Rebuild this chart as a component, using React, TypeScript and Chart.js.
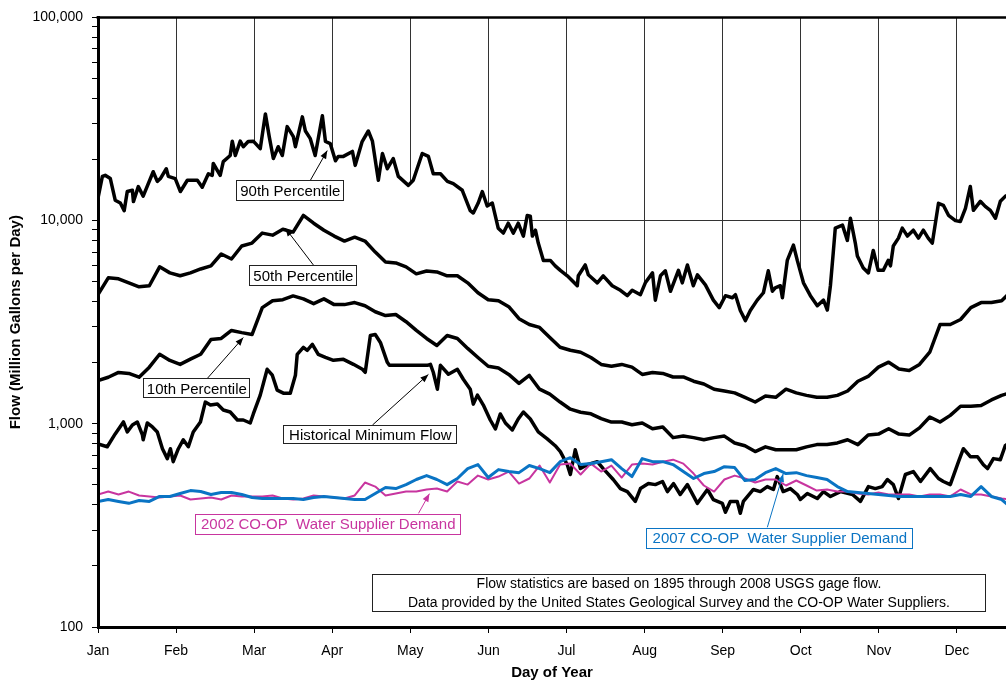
import React, { useEffect, useRef } from 'react';
import { Chart, registerables } from 'chart.js';

Chart.register(...registerables);

const FONT = '"Liberation Sans", Arial, Helvetica, sans-serif';
const MAGENTA = '#C8359F';
const BLUE = '#0A74C4';

// Day of year for the 50th / 10th percentile and demand samples
const days = [
  1, 5, 9, 13, 17, 21, 25, 29, 33, 37, 41, 45, 49, 53, 57, 61, 65, 69, 73, 77,
  81, 85, 89, 93, 97, 101, 105, 109, 113, 117, 121, 125, 129, 133, 137, 141, 145, 149, 153, 157,
  161, 165, 169, 173, 177, 181, 185, 189, 193, 197, 201, 205, 209, 213, 217, 221, 225, 229, 233, 237,
  241, 245, 249, 253, 257, 261, 265, 269, 273, 277, 281, 285, 289, 293, 297, 301, 305, 309, 313, 317,
  321, 325, 329, 333, 337, 341, 345, 349, 353, 357,
];

const monthLabels = ['Jan', 'Feb', 'Mar', 'Apr', 'May', 'Jun', 'Jul', 'Aug', 'Sep', 'Oct', 'Nov', 'Dec'];
const monthTicks = [1, 31.42, 61.83, 92.25, 122.67, 153.08, 183.5, 213.92, 244.33, 274.75, 305.17, 335.58];
const decadeTicks = [100, 1000, 10000, 100000];

// 90th percentile (own, denser day list to keep its spikes)
const p90Days = [
  1, 2.7, 3.8, 5.8, 7.7, 9.7, 11.2, 12.4, 14.4, 14.8,
  16.7, 18.6, 22.5, 24.1, 25.3, 27.6, 28.4, 31.1, 33.1, 35.8,
  39.7, 41.6, 44.0, 45.5, 45.9, 48.6, 49.8, 52.5, 53.3, 54.5,
  56.4, 57.6, 59.5, 61.5, 64.2, 66.2, 67.7, 69.3, 71.2, 72.8,
  74.7, 77.1, 77.9, 80.6, 81.8, 83.7, 85.6, 88.4, 89.6, 91.5,
  93.5, 94.6, 96.6, 100.1, 101.2, 103.9, 106.3, 107.9, 110.2, 111.8,
  113.7, 116.0, 118.0, 121.9, 123.8, 127.3, 129.7, 131.6, 134.4, 137.1,
  139.4, 142.9, 146.0, 147.2, 149.1, 150.7, 152.6, 154.6, 156.9, 158.9,
  160.8, 162.8, 164.7, 166.7, 168.2, 169.4, 170.2, 171.4, 172.5, 174.5,
  177.2, 179.1, 181.1, 183.8, 187.7, 188.1, 190.8, 192.0, 195.5, 197.8,
  201.3, 204.5, 207.2, 209.1, 212.3, 214.2, 217.0, 218.1, 220.1, 222.0,
  224.0, 227.1, 228.6, 230.6, 232.9, 234.5, 237.6, 240.7, 243.0, 245.4,
  248.1, 249.3, 251.2, 253.2, 255.1, 257.8, 260.2, 262.1, 263.7, 264.8,
  266.8, 267.6, 269.5, 271.9, 273.4, 275.8, 278.5, 281.2, 283.6, 285.1,
  286.3, 287.4, 288.2, 291.0, 292.9, 294.1, 296.0, 296.8, 299.1, 301.1,
  303.0, 304.9, 306.9, 308.8, 309.7, 310.8, 312.8, 314.3, 316.3, 318.6,
  320.6, 322.5, 324.4, 326.0, 328.4, 330.3, 332.3, 335.0, 336.9, 338.9,
  340.8, 342.0, 344.7, 346.6, 348.6, 350.6, 352.5, 354.4, 356.5,
];
const p90 = [
  12900, 16500, 16700, 16100, 12600, 12200, 11200, 13900, 14100, 12400,
  14700, 13200, 17400, 15600, 16100, 18000, 16500, 16100, 13900, 15800,
  15800, 14600, 17000, 16700, 19100, 16700, 19500, 20900, 24600, 20900,
  24600, 23100, 24500, 24600, 22600, 33500, 25900, 20200, 23100, 20900,
  29000, 25900, 23100, 32400, 27600, 25300, 20900, 32800, 24500, 23900,
  19700, 20700, 20700, 21900, 18700, 24500, 27600, 24600, 15800, 21400,
  18000, 20200, 16500, 14900, 15800, 21400, 20700, 17000, 17000, 15600,
  15200, 14100, 11200, 10900, 12200, 13900, 11800, 12200, 9180, 8680,
  9710, 8680, 9710, 8390, 10600, 10500, 8390, 8970, 7750, 6370,
  6370, 5990, 5690, 5350, 4780, 5350, 6050, 5410, 4940, 5350,
  4780, 4540, 4270, 4540, 4320, 4940, 5530, 4060, 5350, 5660,
  4490, 5690, 4940, 6050, 4780, 5410, 4830, 4060, 3730, 4270,
  4170, 4320, 3610, 3220, 3610, 4060, 4415, 5660, 4490, 4670,
  4780, 4170, 6370, 7580, 6370, 4940, 4270, 3810, 4060, 3630,
  4780, 6930, 9180, 9500, 7990, 10270, 7750, 6700, 5850, 5530,
  7130, 5690, 5690, 6370, 5990, 7500, 8200, 9180, 8390, 8970,
  8200, 8970, 8200, 7750, 12160, 11890, 10620, 10000, 9890, 11490,
  14730, 11230, 12440, 11750, 11230, 10270, 12440, 13160, 13600,
];

const p50 = [
  4320, 5230, 5170, 4940, 4720, 4780, 5920, 5530, 5350, 5530,
  5780, 5990, 6850, 6470, 7500, 7750, 8680, 8480, 9070, 8780,
  10600, 9710, 8970, 8390, 7930, 8290, 7930, 7000, 6260, 6190,
  5920, 5470, 5650, 5590, 5350, 5350, 4940, 4415, 4080, 4030,
  3770, 3290, 3080, 2980, 2660, 2380, 2300, 2250, 2120, 1960,
  1920, 1960, 1900, 1750, 1790, 1770, 1700, 1700, 1620, 1570,
  1480, 1450, 1420, 1350, 1280, 1370, 1350, 1480, 1420, 1380,
  1350, 1350, 1380, 1450, 1620, 1710, 1900, 2010, 1860, 1830,
  1960, 2250, 3080, 3080, 3260, 3730, 3950, 3950, 4030, 4520,
];

const p10 = [
  1630, 1695, 1790, 1770, 1695, 1900, 2200, 2050, 1960, 2080,
  2200, 2600, 2630, 2880, 2810, 2750, 3730, 4030, 4080, 4260,
  4120, 3900, 4120, 3860, 3860, 3950, 3810, 3560, 3410, 3450,
  3180, 2880, 2630, 2430, 2720, 2630, 2350, 2120, 1920, 1880,
  1750, 1580, 1730, 1480, 1400, 1280, 1180, 1140, 1120, 1060,
  1020, 1020, 990, 1010, 945, 965, 855, 870, 855, 835,
  855, 870, 805, 780, 730, 770, 745, 745, 745, 770,
  790, 790, 805, 835, 790, 880, 890, 945, 890, 880,
  955, 1080, 1020, 1100, 1220, 1220, 1230, 1310, 1380, 1430,
];

// Historical minimum (own day list)
const minDays = [
  1, 4.6, 7.7, 10.9, 12.4, 14.4, 16.3, 18.3, 18.6, 20.2,
  22.2, 24.1, 26.1, 28.0, 29.2, 30.3, 32.3, 34.2, 36.2, 38.1,
  40.9, 42.8, 44.8, 47.5, 49.8, 52.5, 55.3, 57.6, 60.3, 61.5,
  64.2, 66.9, 68.9, 70.8, 73.2, 75.9, 77.9, 78.6, 81.0, 82.5,
  84.5, 86.8, 89.6, 92.7, 96.6, 100.5, 104.0, 105.1, 107.1, 109.0,
  111.0, 113.7, 114.5, 129.3, 130.5, 131.6, 133.2, 134.4, 137.5, 141.0,
  143.3, 146.0, 147.2, 148.8, 151.1, 153.8, 155.8, 157.7, 159.7, 162.4,
  164.7, 166.7, 169.4, 172.5, 176.0, 179.1, 181.1, 183.8, 185.0, 186.9,
  188.9, 191.6, 195.5, 197.8, 201.7, 204.5, 207.2, 210.3, 212.3, 215.4,
  218.1, 220.9, 222.8, 225.2, 227.8, 230.6, 234.5, 238.4, 240.7, 244.2,
  245.4, 247.3, 250.0, 251.2, 252.4, 256.3, 259.0, 261.7, 264.1, 265.6,
  267.9, 270.7, 273.4, 274.6, 277.3, 281.2, 283.6, 286.3, 290.2, 294.9,
  298.0, 301.1, 303.8, 306.5, 308.5, 310.8, 312.8, 315.5, 318.6, 321.4,
  325.2, 328.4, 330.3, 333.0, 336.2, 338.1, 340.8, 343.6, 345.9, 347.5,
  349.8, 352.5, 354.4, 356.5,
];
const minFlow = [
  797, 771, 892, 1021, 912, 987, 1021, 882, 834, 1009,
  965, 912, 754, 674, 754, 651, 754, 834, 771, 912,
  1021, 1279, 1237, 1250, 1169, 1143, 1044, 1044, 1009, 1118,
  1384, 1855, 1734, 1464, 1415, 1415, 1734, 2196, 2376, 2300,
  2458, 2196, 2123, 2053, 2076, 1962, 1855, 1793, 2720, 2750,
  2514, 2007, 1940, 1940, 1962, 1793, 1480, 1940, 1753, 1855,
  1657, 1480, 1250, 1384, 1237, 1044, 943, 1118, 1009, 933,
  1056, 1143, 1056, 912, 843, 780, 729, 629, 563, 745,
  602, 629, 651, 602, 532, 480, 464, 415, 480, 508,
  502, 520, 464, 508, 449, 502, 406, 475, 424, 406,
  367, 415, 415, 363, 415, 475, 464, 491, 475, 550,
  464, 480, 449, 424, 454, 429, 464, 439, 464, 449,
  415, 491, 480, 491, 532, 502, 429, 563, 582, 520,
  602, 538, 520, 502, 651, 754, 689, 689, 629, 602,
  674, 666, 780, 815,
];

const demand2002 = [
  449, 464, 449, 464, 444, 439, 434, 439, 444, 424,
  429, 434, 424, 444, 439, 439, 439, 444, 429, 424,
  429, 444, 439, 434, 429, 444, 514, 491, 444, 454,
  464, 464, 475, 480, 464, 520, 502, 556, 532, 550,
  582, 508, 538, 623, 514, 630, 637, 563, 637, 582,
  623, 544, 630, 637, 630, 651, 666, 637, 569, 497,
  464, 532, 556, 538, 514, 532, 532, 497, 526, 497,
  469, 475, 464, 464, 454, 449, 459, 449, 449, 449,
  439, 449, 449, 439, 475, 449, 449, 439, 429, 424,
];

const demand2007 = [
  415, 424, 415, 406, 419, 415, 439, 439, 454, 469,
  464, 449, 459, 459, 449, 434, 429, 429, 429, 429,
  424, 434, 439, 434, 429, 424, 424, 454, 486, 480,
  502, 532, 556, 532, 502, 538, 602, 630, 544, 595,
  582, 575, 623, 602, 575, 651, 681, 630, 637, 651,
  666, 602, 550, 674, 651, 651, 630, 582, 538, 569,
  582, 615, 609, 526, 532, 575, 602, 569, 575, 556,
  544, 532, 491, 464, 459, 454, 449, 444, 439, 439,
  439, 439, 439, 439, 449, 439, 491, 439, 424, 383,
];

// Callout labels placed in data coordinates (day, flow)
const callouts = [
  { text: '90th Percentile', color: '#000', day: 75.9, value: 14000, w: 108, h: 21, tailDay: 83.7, tipDay: 90.3, tipValue: 22100 },
  { text: '50th Percentile', color: '#000', day: 81.0, value: 5370, w: 108, h: 21, tailDay: 84.9, tipDay: 74.0, tipValue: 9170 },
  { text: '10th Percentile', color: '#000', day: 39.5, value: 1494, w: 107, h: 20, tailDay: 43.6, tipDay: 57.6, tipValue: 2656 },
  { text: 'Historical Minimum Flow', color: '#000', day: 107.1, value: 885, w: 174, h: 19, tailDay: 107.9, tipDay: 129.7, tipValue: 1750 },
  { text: '2002 CO-OP  Water Supplier Demand', color: MAGENTA, day: 90.7, value: 321, w: 266, h: 21, tailDay: 125.8, tipDay: 130.1, tipValue: 453 },
  { text: '2007 CO-OP  Water Supplier Demand', color: BLUE, day: 266.6, value: 274, w: 267, h: 21, tailDay: 261.7, tipDay: 267.9, tipValue: 567 },
];

const noteLines = [
  'Flow statistics are based on 1895 through 2008 USGS gage flow.',
  'Data provided by the United States Geological Survey and the CO-OP Water Suppliers.',
];
const note = { day: 227.3, value: 146.7, w: 614, h: 38 };

const isDecade = (v: number) => {
  const l = Math.log10(v);
  return Math.abs(l - Math.round(l)) < 1e-9;
};

const calloutPlugin = {
  id: 'callouts',
  afterDraw(chart: any) {
    const { ctx, chartArea } = chart;
    const xs = chart.scales.x;
    const ys = chart.scales.y;
    ctx.save();
    // top frame line
    ctx.strokeStyle = '#000';
    ctx.lineWidth = 2.5;
    ctx.beginPath();
    ctx.moveTo(chartArea.left - 1.5, chartArea.top);
    ctx.lineTo(chartArea.right, chartArea.top);
    ctx.stroke();

    for (const a of callouts) {
      const cx = xs.getPixelForValue(a.day);
      const cy = ys.getPixelForValue(a.value);
      const left = cx - a.w / 2;
      const top = cy - a.h / 2;
      const tipX = xs.getPixelForValue(a.tipDay);
      const tipY = ys.getPixelForValue(a.tipValue);
      const tailX = xs.getPixelForValue(a.tailDay);
      const tailY = tipY < top ? top : top + a.h;
      ctx.strokeStyle = a.color;
      ctx.fillStyle = a.color;
      ctx.lineWidth = 1;
      ctx.beginPath();
      ctx.moveTo(tailX, tailY);
      ctx.lineTo(tipX, tipY);
      ctx.stroke();
      const ang = Math.atan2(tipY - tailY, tipX - tailX);
      const L = 8, W = 3.2;
      const c = Math.cos(ang), s = Math.sin(ang);
      ctx.beginPath();
      ctx.moveTo(tipX, tipY);
      ctx.lineTo(tipX - L * c + W * s, tipY - L * s - W * c);
      ctx.lineTo(tipX - L * c - W * s, tipY - L * s + W * c);
      ctx.closePath();
      ctx.fill();
      ctx.fillStyle = '#fff';
      ctx.fillRect(left, top, a.w, a.h);
      ctx.strokeStyle = a.color === '#000' ? '#222' : a.color;
      ctx.strokeRect(Math.round(left) + 0.5, Math.round(top) + 0.5, a.w - 1, a.h - 1);
      ctx.fillStyle = a.color;
      ctx.font = `15px ${FONT}`;
      ctx.textAlign = 'center';
      ctx.textBaseline = 'middle';
      ctx.fillText(a.text, cx, cy + 1);
    }

    const nx = xs.getPixelForValue(note.day);
    const ny = ys.getPixelForValue(note.value);
    ctx.fillStyle = '#fff';
    ctx.fillRect(nx - note.w / 2, ny - note.h / 2, note.w, note.h);
    ctx.strokeStyle = '#222';
    ctx.lineWidth = 1;
    ctx.strokeRect(Math.round(nx - note.w / 2) + 0.5, Math.round(ny - note.h / 2) + 0.5, note.w - 1, note.h - 1);
    ctx.fillStyle = '#000';
    ctx.font = `14px ${FONT}`;
    ctx.textAlign = 'center';
    ctx.textBaseline = 'middle';
    ctx.fillText(noteLines[0], nx, ny - 9);
    ctx.fillText(noteLines[1], nx, ny + 10);
    ctx.restore();
  },
};

export default function App() {
  const ref = useRef<HTMLCanvasElement>(null);

  useEffect(() => {
    const canvas = ref.current;
    if (!canvas) return;
    const mk = (xs: number[], vals: number[]) => xs.map((d, i) => ({ x: d, y: vals[i] }));
    const black = (label: string, xs: number[], vals: number[], order: number, extra: any = {}) => ({
      label,
      data: mk(xs, vals),
      borderColor: '#000',
      borderWidth: 3.5,
      order,
      ...extra,
    });

    const chart = new Chart(canvas, {
      type: 'line',
      data: {
        datasets: [
          { label: '2007 CO-OP Water Supplier Demand', data: mk(days, demand2007), borderColor: BLUE, borderWidth: 3, order: 0 },
          { label: '2002 CO-OP Water Supplier Demand', data: mk(days, demand2002), borderColor: MAGENTA, borderWidth: 2, order: 1 },
          black('Historical Minimum Flow', minDays, minFlow, 2),
          black('10th Percentile', days, p10, 3),
          black('50th Percentile', days, p50, 4),
          black('90th Percentile', p90Days, p90, 5, { fill: 'start', backgroundColor: '#ffffff' }),
        ],
      },
      options: {
        responsive: false,
        animation: false,
        layout: { padding: { top: 12, left: 0, right: 0, bottom: 0 } },
        elements: {
          point: { radius: 0 },
          line: { tension: 0, borderJoinStyle: 'round', borderCapStyle: 'round' },
        },
        plugins: {
          legend: { display: false },
          tooltip: { enabled: false },
          filler: { drawTime: 'beforeDatasetsDraw' },
        },
        scales: {
          x: {
            type: 'linear',
            min: 1,
            max: 354.7,
            afterFit: (s: any) => { s.height = 55; },
            afterBuildTicks: (s: any) => { s.ticks = monthTicks.map((v) => ({ value: v })); },
            ticks: {
              autoSkip: false,
              maxRotation: 0,
              padding: 10,
              color: '#000',
              font: { family: FONT, size: 14 },
              callback: (_v: any, i: number) => monthLabels[i],
            },
            grid: { color: '#333', lineWidth: 1, tickLength: 6, tickColor: '#000' },
            border: { color: '#000', width: 3, z: 1 },
            title: {
              display: true,
              text: 'Day of Year',
              color: '#000',
              font: { family: FONT, size: 15, weight: 'bold' },
              padding: { top: 0, bottom: 0 },
            },
          },
          y: {
            type: 'logarithmic',
            min: 100,
            max: 100000,
            afterFit: (s: any) => { s.width = 98; },
            afterBuildTicks: (s: any) => {
              const t: any[] = [];
              for (let k = 0; k < decadeTicks.length; k++) {
                const base = decadeTicks[k];
                const top = k === decadeTicks.length - 1 ? 1 : 9;
                for (let m = 1; m <= top; m++) t.push({ value: base * m, major: m === 1 });
              }
              s.ticks = t;
            },
            ticks: {
              autoSkip: false,
              padding: 9,
              color: '#000',
              font: { family: FONT, size: 14 },
              callback: (v: any) => (isDecade(Number(v)) ? Number(v).toLocaleString('en-US') : ''),
            },
            grid: {
              color: (c: any) => (c.tick && isDecade(c.tick.value) ? '#333' : 'rgba(0,0,0,0)'),
              tickColor: '#000',
              lineWidth: 1,
              tickLength: 6,
            },
            border: { color: '#000', width: 3, z: 1 },
            title: {
              display: true,
              text: 'Flow (Million Gallons per Day)',
              color: '#000',
              font: { family: FONT, size: 15, weight: 'bold' },
              padding: { top: 7, bottom: 0 },
            },
          },
        },
      } as any,
      plugins: [calloutPlugin],
    });
    return () => chart.destroy();
  }, []);

  return (
    <div style={{ position: 'fixed', left: 0, top: 0, width: 1006, height: 682, background: '#fff' }}>
      <canvas ref={ref} width={1006} height={682} style={{ display: 'block' }} />
    </div>
  );
}
